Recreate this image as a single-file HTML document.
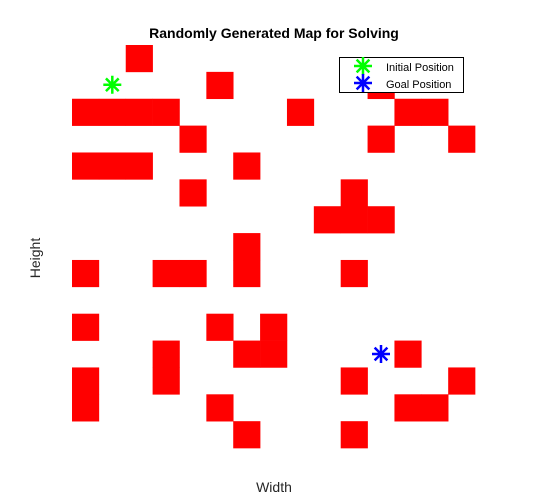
<!DOCTYPE html>
<html><head><meta charset="utf-8">
<style>
html,body{margin:0;padding:0;background:#fff;}
svg{display:block;font-family:"Liberation Sans",sans-serif;}
</style></head>
<body>
<svg id="chart" width="549" height="495" viewBox="0 0 549 495">
  <rect width="549" height="495" fill="#fff"/>
  <text x="274" y="38" text-anchor="middle" font-size="14" font-weight="bold" fill="#000">Randomly Generated Map for Solving</text>
  <text x="274" y="492" text-anchor="middle" font-size="14" fill="#262626">Width</text>
  <text x="0" y="0" transform="translate(40,258) rotate(-90)" text-anchor="middle" font-size="14" fill="#262626">Height</text>
  <g id="cells"></g>
  <g id="markers"></g>
  <g>
    <rect x="339.5" y="57.5" width="124" height="35" fill="#fff" stroke="#000" stroke-width="1"/>
    <g id="legstar1"></g>
    <g id="legstar2"></g>
    <text x="386" y="71" font-size="11" fill="#000">Initial Position</text>
    <text x="386" y="88" font-size="11" fill="#000">Goal Position</text>
  </g>
</svg>
<script>
// obstacle cells as [column,row]
const cells = [
  [2,0],
  [5,1],[11,1],
  [0,2],[1,2],[2,2],[3,2],[8,2],[12,2],[13,2],
  [4,3],[11,3],[14,3],
  [0,4],[1,4],[2,4],[6,4],
  [4,5],[10,5],
  [9,6],[10,6],[11,6],
  [6,7],
  [0,8],[3,8],[4,8],[6,8],[10,8],
  [0,10],[5,10],[7,10],
  [3,11],[6,11],[7,11],[12,11],
  [0,12],[3,12],[10,12],[14,12],
  [0,13],[5,13],[12,13],[13,13],
  [6,14],[10,14]
];
const startPos = [1,1];
const goalPos = [11,11];

const X0 = 72, Y0 = 45, CW = 26.87;
function X(c){ return X0 + c*CW; }
function Y(r){ return Y0 + r*CW; }
const NS = "http://www.w3.org/2000/svg";

const g = document.getElementById('cells');
cells.forEach(function(p){
  const r = document.createElementNS(NS,'rect');
  r.setAttribute('x', X(p[0]));
  r.setAttribute('y', Y(p[1]));
  r.setAttribute('width', CW+0.3);
  r.setAttribute('height', CW+0.3);
  r.setAttribute('fill', '#ff0000');
  
  
  g.appendChild(r);
});

function star(parent, cx, cy, color, name){
  const s = document.createElementNS(NS,'g');
  
  
  const R = 9;
  let d = '';
  [0,45,90,135].forEach(function(a){
    const rad = a*Math.PI/180, dx = R*Math.cos(rad), dy = R*Math.sin(rad);
    d += 'M'+(cx-dx)+','+(cy-dy)+'L'+(cx+dx)+','+(cy+dy);
  });
  const p = document.createElementNS(NS,'path');
  p.setAttribute('d', d);
  p.setAttribute('stroke', color);
  p.setAttribute('stroke-width', '2.5');
  s.appendChild(p);
  parent.appendChild(s);
}
const m = document.getElementById('markers');
star(m, X(startPos[0])+CW/2, Y(startPos[1])+CW/2 - 0.5, '#00ff00', 'initial-position-marker');
star(m, X(goalPos[0])+CW/2, Y(goalPos[1])+CW/2, '#0000ff', 'goal-position-marker');
star(document.getElementById('legstar1'), 363, 66, '#00ff00', 'legend-initial-star');
star(document.getElementById('legstar2'), 363, 83, '#0000ff', 'legend-goal-star');
</script>
</body></html>
